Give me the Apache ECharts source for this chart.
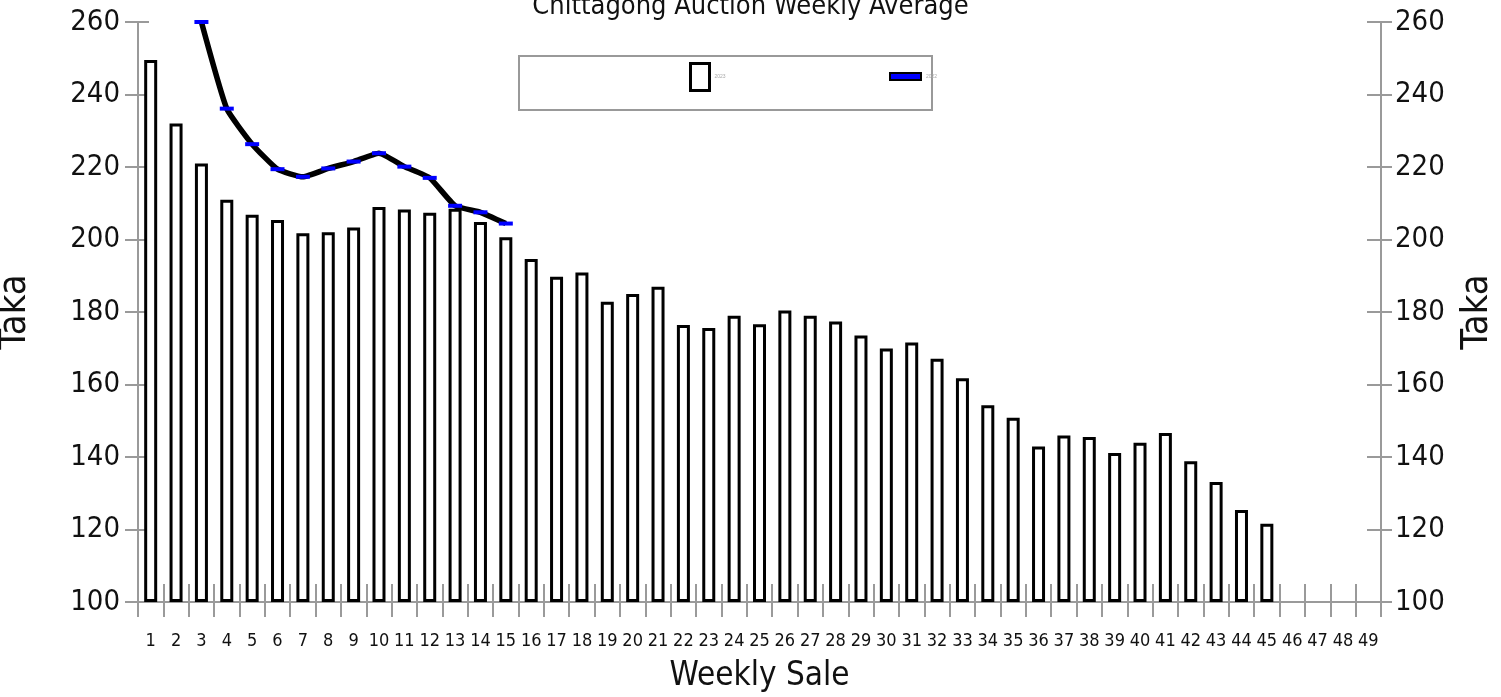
<!DOCTYPE html>
<html>
<head>
<meta charset="utf-8">
<script src="https://cdn.jsdelivr.net/npm/echarts@6/dist/echarts.min.js"></script>
<style>
html,body{margin:0;padding:0;background:#fff;}
#chart{width:1501px;height:697px;}
</style>
</head>
<body>
<div id="chart"></div>
<script>
// ---- data ----
var weeks = ['1','2','3','4','5','6','7','8','9','10','11','12','13','14','15','16','17','18','19','20','21','22','23','24','25','26','27','28','29','30','31','32','33','34','35','36','37','38','39','40','41','42','43','44','45','46','47','48','49'];
var barName = '2023';
var lineName = '2022';
var barValues = [249.5, 232, 221, 211, 206.8, 205.4, 201.7, 202, 203.3, 209, 208.3, 207.4, 208.5, 204.8, 200.6,
  194.6, 189.7, 190.9, 182.8, 185, 187, 176.4, 175.6, 179, 176.6, 180.4, 179, 177.4, 173.5, 169.9,
  171.6, 167.1, 161.7, 154.3, 150.8, 142.9, 145.9, 145.5, 141.1, 143.9, 146.6, 138.8, 133.1, 125.4, 121.6];
var lineValues = [null, null, 260, 236.1, 226.3, 219.4, 217.3, 219.6, 221.5, 223.8, 220.1, 217, 209.3, 207.5, 204.4];
var yTicks = {min: 100, max: 260, interval: 20};
var titleText = 'Chittagong Auction Weekly Average';
var xName = 'Weekly Sale';
var yName = 'Taka';

// ---- chart ----
var FONT = "'DejaVu Sans Condensed', 'Liberation Sans Narrow', sans-serif";
var base = yTicks.min;
var baseSeries = barValues.map(function () { return base; });
var barDelta = barValues.map(function (v) { return v - base; });

var grey = '#9a9a9a';
function yAx(pos, showLabel, tickInside, tickLen, extra) {
  var a = {
    type: 'value', position: pos, min: yTicks.min, max: yTicks.max, interval: yTicks.interval,
    splitLine: {show: false},
    axisLine: {show: showLabel, lineStyle: {color: grey, width: 2}},
    axisTick: {show: true, inside: tickInside, length: tickLen, lineStyle: {color: grey, width: 2}},
    axisLabel: {show: showLabel, fontFamily: FONT, fontSize: 29, color: '#111', margin: pos === 'left' ? 18 : 14}
  };
  if (extra) for (var k in extra) a[k] = extra[k];
  return a;
}

var chart = echarts.init(document.getElementById('chart'));
chart.setOption({
  animation: false,
  backgroundColor: '#fff',
  title: {text: titleText, left: 'center', top: -12,
    textStyle: {fontFamily: FONT, fontSize: 27, fontWeight: 'normal', color: '#111'}},
  graphic: [{type: 'rect', z: 1, shape: {x: 519, y: 56, width: 413, height: 54},
    style: {fill: '#fff', stroke: '#999', lineWidth: 2}}],
  legend: [
    {z: 5, left: 684, top: 57, itemWidth: 19, itemHeight: 27, itemGap: 0,
      data: [{name: barName, icon: 'rect', itemStyle: {color: '#fff', borderColor: '#000', borderWidth: 3}}],
      textStyle: {fontSize: 5, color: '#aaa', padding: [18, 0, 0, 0]}},
    {z: 5, left: 884, top: 67, itemWidth: 31, itemHeight: 7, itemGap: 0,
      data: [{name: lineName, icon: 'rect', itemStyle: {color: '#0000ff', borderColor: '#000', borderWidth: 2}}],
      textStyle: {fontSize: 5, color: '#aaa', padding: [16, 0, 0, 0]}}
  ],
  grid: {left: 138, right: 120, top: 22, bottom: 95, containLabel: false, outerBoundsMode: 'none'},
  xAxis: [
    {type: 'category', data: weeks, position: 'bottom',
      axisLine: {show: true, lineStyle: {color: grey, width: 2}},
      axisTick: {show: true, length: 15, interval: 0, lineStyle: {color: grey, width: 2}},
      axisLabel: {interval: 0, fontFamily: FONT, fontSize: 18, color: '#111', margin: 30},
      name: xName, nameLocation: 'middle', nameGap: 58,
      nameTextStyle: {fontFamily: FONT, fontSize: 33, color: '#111'}},
    {type: 'category', data: weeks, position: 'bottom',
      axisLine: {show: false},
      axisTick: {show: true, inside: true, length: 18, interval: 0, lineStyle: {color: grey, width: 2}},
      axisLabel: {show: false}}
  ],
  yAxis: [
    yAx('left', true, false, 13, {name: yName, nameLocation: 'middle', nameRotate: 90, nameGap: 104,
      nameTextStyle: {fontFamily: FONT, fontSize: 38, color: '#111'}}),
    yAx('left', false, true, 11),
    yAx('right', true, false, 11, {name: yName, nameLocation: 'middle', nameRotate: 90, nameGap: 77,
      nameTextStyle: {fontFamily: FONT, fontSize: 38, color: '#111'}}),
    yAx('right', false, true, 14)
  ],
  series: [
    {type: 'bar', stack: 'b', silent: true, barWidth: 13, data: baseSeries,
      itemStyle: {color: 'rgba(0,0,0,0)'}, xAxisIndex: 0, yAxisIndex: 0},
    {name: barName, type: 'bar', stack: 'b', barWidth: 13, data: barDelta,
      itemStyle: {color: '#fff', borderColor: '#000', borderWidth: 3}, xAxisIndex: 0, yAxisIndex: 0},
    {name: lineName, type: 'line', data: lineValues, smooth: 0.15, z: 5,
      lineStyle: {color: '#000', width: 5.5},
      symbol: 'rect', symbolSize: [14, 4], showSymbol: true,
      itemStyle: {color: '#0000ff', borderWidth: 0},
      xAxisIndex: 0, yAxisIndex: 0}
  ]
});
</script>
</body>
</html>
